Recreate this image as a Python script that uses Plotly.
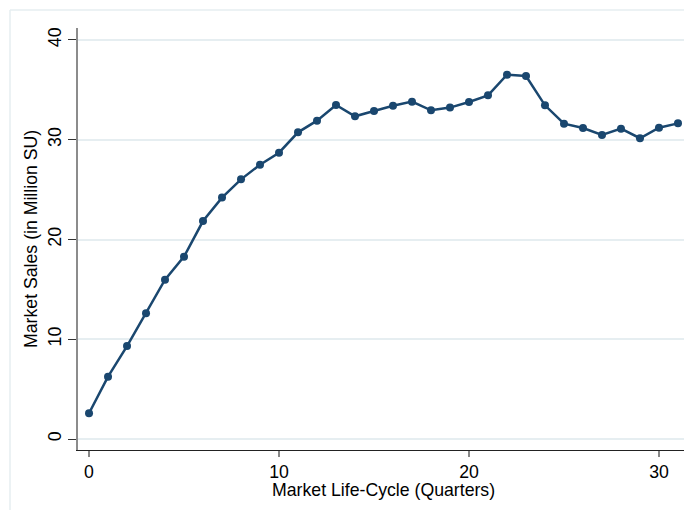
import plotly.graph_objects as go

quarters = list(range(32))
sales = [2.58, 6.25, 9.32, 12.6, 15.97, 18.28, 21.85, 24.2, 26.03, 27.5,
         28.7, 30.74, 31.91, 33.48, 32.35, 32.88, 33.41, 33.82, 32.95, 33.22,
         33.78, 34.45, 36.52, 36.39, 33.45, 31.61, 31.18, 30.48, 31.11, 30.15,
         31.21, 31.64]
x_ticks = [0, 10, 20, 30]
y_ticks = [0, 10, 20, 30, 40]

# page has an 8px body margin; compensate so the figure fills 692x510
OFF = 8
W, H = 692 - OFF, 510 - OFF
L, R, T, B = 78 - OFF, 3, 28 - OFF, 60
pw, ph = W - L - R, H - T - B
FONT = "Liberation Sans, Arial, sans-serif"
NAVY = "#1a476f"

fig = go.Figure()
fig.add_trace(go.Scatter(
    x=quarters, y=sales, mode="lines+markers",
    line=dict(color=NAVY, width=2.5),
    marker=dict(color=NAVY, size=8, symbol="circle"),
    showlegend=False,
))

fig.update_layout(
    width=W, height=H,
    margin=dict(l=L, r=R, t=T, b=B, pad=0),
    paper_bgcolor="white", plot_bgcolor="white",
    font=dict(family=FONT, size=17.7, color="black"),
    xaxis=dict(
        range=[-0.58, 31.58], tickvals=x_ticks, showgrid=False, zeroline=False,
        showline=True, linecolor="#222222", linewidth=1,
        ticks="outside", ticklen=6, tickcolor="#888888", tickwidth=1.5,
        tickfont=dict(size=17.7, color="black"),
    ),
    yaxis=dict(
        range=[-1.1, 41.2], tickvals=y_ticks, showgrid=True,
        gridcolor="#e6eef1", gridwidth=1.5, zeroline=False,
        showline=True, linecolor="#8c8c8c", linewidth=1.5,
        ticks="outside", ticklen=8, tickcolor="#333333", tickwidth=1,
        tickangle=-90, tickfont=dict(size=17.7, color="black"),
    ),
    annotations=[
        dict(text="Market Life-Cycle (Quarters)", xref="paper", yref="paper",
             x=0.5, y=0, xanchor="center", yanchor="top", yshift=-28,
             showarrow=False, font=dict(size=17.7, color="black")),
        dict(text="Market Sales (in Million SU)", xref="paper", yref="paper",
             x=0, y=0.5, xanchor="right", yanchor="middle", xshift=-35,
             textangle=-90, showarrow=False, font=dict(size=17.7, color="black")),
    ],
    shapes=[
        dict(type="line", xref="paper", yref="paper",
             x0=(2 - L) / pw, x1=(2 - L) / pw, y0=-0.3, y1=(H - B - 2) / ph,
             line=dict(color="#e6eef1", width=1.5)),
        dict(type="line", xref="paper", yref="paper",
             x0=(2 - L) / pw, x1=1.2, y0=(H - B - 2) / ph, y1=(H - B - 2) / ph,
             line=dict(color="#e6eef1", width=1.5)),
    ],
)

fig.write_html("out.html")
